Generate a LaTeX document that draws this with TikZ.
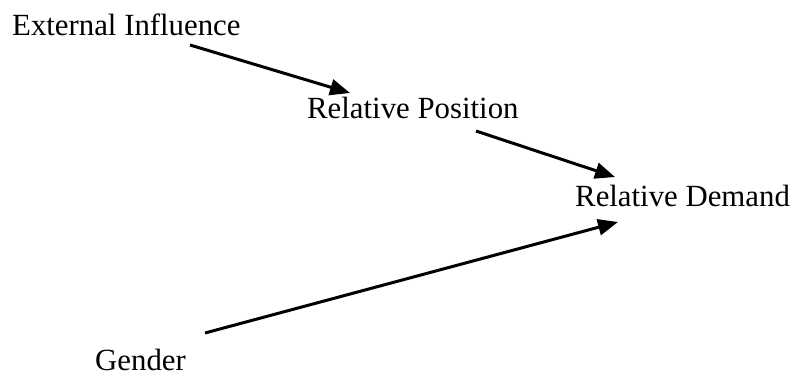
\documentclass[tikz,border=0pt]{standalone}
\usepackage{fontspec}
\setmainfont{Liberation Serif}
\usetikzlibrary{arrows.meta}
\begin{document}
\begin{tikzpicture}[x=1pt,y=-1pt,
  lbl/.style={anchor=base west,inner sep=0pt,font=\fontsize{30.8}{36}\selectfont},
  arr/.style={line width=3pt,-{Triangle[length=20pt,width=16pt]}}]
\useasboundingbox (0,0) rectangle (797,384);
\node[lbl] (ext) at (12,35) {External Influence};
\node[lbl] (pos) at (307,118) {Relative Position};
\node[lbl] (dem) at (575,206) {Relative Demand};
\node[lbl] (gen) at (95,370) {Gender};
\draw[arr] ([shift={(178,10)}]ext.base west) -- ([shift={(43,-25)}]pos.base west);
\draw[arr] ([shift={(169,13)}]pos.base west) -- ([shift={(40,-29)}]dem.base west);
\draw[arr] ([shift={(110,-37)}]gen.base west) -- ([shift={(43,16)}]dem.base west);
\end{tikzpicture}
\end{document}
